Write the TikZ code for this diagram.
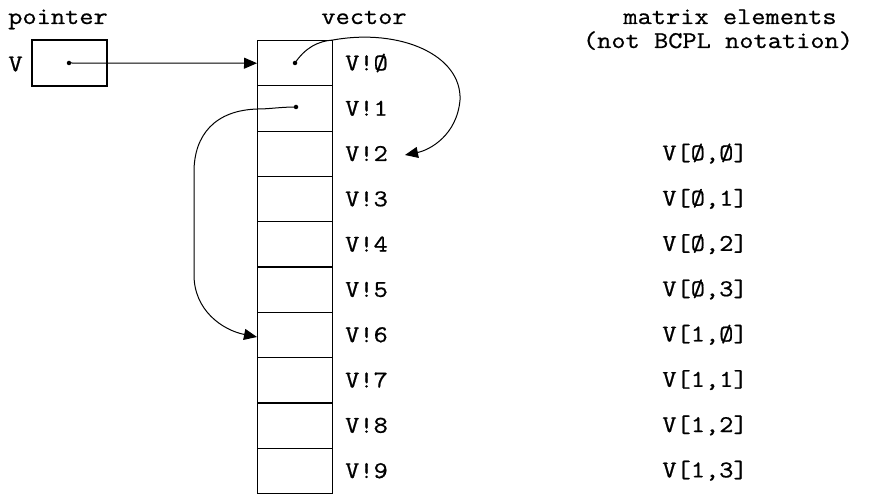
\documentclass[tikz,border=0pt]{standalone}
\usepackage{fontspec}
\newfontfamily\tw{Latin Modern Mono}[FakeStretch=1.15, FakeBold=0.8]
\usetikzlibrary{arrows.meta}
\begin{document}
\begin{tikzpicture}[x=1pt,y=-1pt,
  lbl/.style={font=\tw\fontsize{24}{28}\selectfont, inner sep=0pt},
  cell/.style={draw, line width=1.1pt, minimum width=75pt, minimum height=45.3pt, inner sep=0pt, anchor=north west},
  link/.style={line width=1pt, -{Triangle[length=13pt,width=11pt]}},
  dot/.style={circle, fill, inner sep=0pt, minimum size=4.5pt}]
\useasboundingbox (0,0) rectangle (873,494);
% headers
\node[lbl, anchor=base] (hp) at (58,24) {pointer};
\node[lbl, anchor=base] (hv) at (364,24) {vector};
\node[lbl, anchor=base] (hm) at (730,24) {matrix elements};
\node[lbl, anchor=base] (hn) at (718,48) {(not BCPL notation)};
% pointer
\node[lbl] (pv) at (15.5,64) {V};
\node[draw, line width=1.1pt, minimum width=75pt, minimum height=46pt, inner sep=0pt] (pbox) at (69.5,63) {};
\node[dot] (pd) at (69,63) {};
% vector cells and labels
\foreach \i/\t in {0/Ø,1/1,2/2,3/3,4/4,5/5,6/6,7/7,8/8,9/9} {
  \node[cell] (c\i) at (257,{40+45.3*\i}) {};
  \node[lbl, anchor=west] (l\i) at (345,{63+45.3*\i}) {V!\t};
}
% matrix elements
\node[lbl] (m2) at (705,{63+45.3*2}) {V[Ø,Ø]};
\node[lbl] (m3) at (705,{63+45.3*3}) {V[Ø,1]};
\node[lbl] (m4) at (705,{63+45.3*4}) {V[Ø,2]};
\node[lbl] (m5) at (705,{63+45.3*5}) {V[Ø,3]};
\node[lbl] (m6) at (705,{63+45.3*6}) {V[1,Ø]};
\node[lbl] (m7) at (705,{63+45.3*7}) {V[1,1]};
\node[lbl] (m8) at (705,{63+45.3*8}) {V[1,2]};
\node[lbl] (m9) at (705,{63+45.3*9}) {V[1,3]};
% pointer arrow
\draw[link] (pd.center) -- (c0.west);
% dots in cells
\node[dot] (d0) at (295,63) {};
\node[dot] (d1) at (296,107) {};
\coordinate (t2) at (405,155);
\coordinate (t6) at (257,337);
% curve from V!0 to V!2
\draw[link] (d0.center) .. controls (305,48) and (318,41) .. (333,40)
  .. controls (400,28) and (462,55) .. (460,100)
  .. controls (457,135) and (430,150) .. (t2);
% curve from V!1 to V!6
\draw[link] (d1.center) .. controls (280,107) and (270,109) .. (258,109)
  .. controls (215,110) and (194,135) .. (194,172)
  -- (194,275)
  .. controls (194,310) and (222,330) .. (t6);
\end{tikzpicture}
\end{document}
